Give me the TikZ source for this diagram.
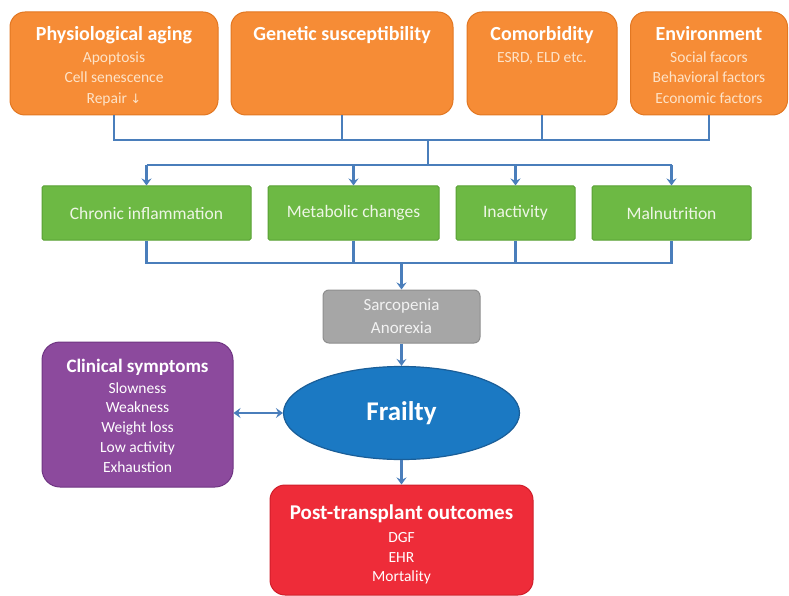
\documentclass[tikz,border=0pt]{standalone}
\usepackage{fontspec}
\setmainfont{Carlito}
\newfontfamily\symfont{DejaVu Sans}
\usetikzlibrary{shapes.geometric,arrows.meta}
\definecolor{orangefill}{HTML}{F68C36}
\definecolor{orangeline}{HTML}{E27722}
\definecolor{orangesub}{HTML}{FDE3C8}
\definecolor{greenfill}{HTML}{6DB944}
\definecolor{greenline}{HTML}{58A034}
\definecolor{greentext}{HTML}{EEF6E6}
\definecolor{grayfill}{HTML}{A6A6A6}
\definecolor{grayline}{HTML}{8E8E8E}
\definecolor{graytext}{HTML}{F2F2F2}
\definecolor{bluefill}{HTML}{1B79C3}
\definecolor{blueline}{HTML}{1A5E98}
\definecolor{purplefill}{HTML}{8C4A9D}
\definecolor{purpleline}{HTML}{6F3582}
\definecolor{redfill}{HTML}{EE2C39}
\definecolor{redline}{HTML}{D01E2A}
\definecolor{linkblue}{HTML}{4A7EBB}
\tikzset{
  conn/.style={draw=linkblue, line width=2.2pt},
  arr/.style={conn, -{Stealth[length=7pt,width=10pt,inset=2.5pt]}},
  dblarr/.style={conn, {Stealth[length=7pt,width=10pt,inset=2.5pt]}-{Stealth[length=7pt,width=10pt,inset=2.5pt]}},
  obox/.style={draw=orangeline, fill=orangefill, rounded corners=15pt, line width=1pt},
  otext/.style={text=orangesub, align=center, inner sep=0pt, font=\fontsize{15.5}{20.5}\selectfont},
  gbox/.style={draw=greenline, fill=greenfill, line width=1pt, rounded corners=1.5pt, text=greentext, font=\fontsize{17.5}{20}\selectfont},
  graybox/.style={draw=grayline, fill=grayfill, rounded corners=6pt, line width=1pt},
  graytxt/.style={text=graytext, align=center, inner sep=0pt, font=\fontsize{17}{23}\selectfont},
  ellip/.style={ellipse, draw=blueline, fill=bluefill, line width=1.2pt, text=white, font=\bfseries\fontsize{27}{30}\selectfont},
  pbox/.style={draw=purpleline, fill=purplefill, rounded corners=18pt, line width=1pt},
  ptext/.style={text=white, align=center, inner sep=0pt, font=\fontsize{15.5}{19.7}\selectfont},
  rbox/.style={draw=redline, fill=redfill, rounded corners=15pt, line width=1pt},
  rtext/.style={text=white, align=center, inner sep=0pt, font=\fontsize{15.5}{19.5}\selectfont},
}
\newcommand{\ttl}[1]{{\color{white}\bfseries\fontsize{20}{20}\selectfont #1}}
\begin{document}
\begin{tikzpicture}[x=1pt,y=-1pt]
\useasboundingbox (0,0) rectangle (789,596);
% orange boxes
\node[obox, minimum width=208pt, minimum height=103pt] (o1) at (114,63.5) {};
\node[obox, minimum width=222pt, minimum height=103pt] (o2) at (342,63.5) {};
\node[obox, minimum width=150pt, minimum height=103pt] (o3) at (542,63.5) {};
\node[obox, minimum width=157pt, minimum height=103pt] (o4) at (709,63.5) {};
\node[otext, anchor=north] (t1) at (114,26) {\ttl{Physiological aging}\\[1.5pt] Apoptosis\\ Cell senescence\\ Repair {\symfont\fontsize{13}{20}\selectfont ↓}};
\node[otext, anchor=north] (t2) at (342,26) {\ttl{Genetic susceptibility}};
\node[otext, anchor=north] (t3) at (542,26) {\ttl{Comorbidity}\\[1.5pt] ESRD, ELD etc.};
\node[otext, anchor=north] (t4) at (709,26) {\ttl{Environment}\\[1.5pt] Social facors\\ Behavioral factors\\ Economic factors};
% green boxes
\node[gbox, minimum width=209pt, minimum height=54pt] (g1) at (146.5,213) {Chronic inflammation};
\node[gbox, minimum width=171pt, minimum height=54pt] (g2) at (353.5,213) {Metabolic changes};
\node[gbox, minimum width=119pt, minimum height=54pt] (g3) at (515.5,213) {Inactivity};
\node[gbox, minimum width=159pt, minimum height=54pt] (g4) at (671.5,213) {Malnutrition};
% gray box
\node[graybox, minimum width=157pt, minimum height=53pt] (gr) at (401.5,316.5) {};
\node[graytxt, anchor=north] (grt) at (401.5,299) {Sarcopenia\\ Anorexia};
% frailty
\node[ellip, minimum width=236pt, minimum height=93pt] (fr) at (401.5,413) {Frailty};
% purple box
\node[pbox, minimum width=191pt, minimum height=145pt] (pu) at (137.5,414.5) {};
\node[ptext, anchor=north] (put) at (137.5,359) {{\bfseries\fontsize{19}{20}\selectfont Clinical symptoms}\\[1pt] Slowness\\ Weakness\\ Weight loss\\ Low activity\\ Exhaustion};
% red box
\node[rbox, minimum width=263pt, minimum height=110pt] (rd) at (401.5,540) {};
\node[rtext, anchor=north] (rdt) at (401.5,505) {{\bfseries\fontsize{21}{22}\selectfont Post-transplant outcomes}\\[3.5pt] DGF\\ EHR\\ Mortality};
% junction coordinates
\coordinate (j1) at (428,140);
\coordinate (j2) at (428,165);
\coordinate (j3) at (401.5,263);
% top collector
\draw[conn] (o1.south) -- (o1.south |- j1) -- (o4.south |- j1) -- (o4.south);
\draw[conn] (o2.south) -- (o2.south |- j1);
\draw[conn] (o3.south) -- (o3.south |- j1);
\draw[conn] (j1) -- (j2);
% distribution
\draw[conn] (g1.north |- j2) -- (g4.north |- j2);
\draw[arr] (g1.north |- j2) -- (g1.north);
\draw[arr] (g2.north |- j2) -- (g2.north);
\draw[arr] (g3.north |- j2) -- (g3.north);
\draw[arr] (g4.north |- j2) -- (g4.north);
% bottom collector
\draw[conn] (g1.south) -- (g1.south |- j3) -- (g4.south |- j3) -- (g4.south);
\draw[conn] (g2.south) -- (g2.south |- j3);
\draw[conn] (g3.south) -- (g3.south |- j3);
\draw[arr] (j3) -- (gr.north);
\draw[arr] (gr.south) -- (fr.north);
\draw[arr] (fr.south) -- (rd.north);
\draw[dblarr] (pu.east |- fr.west) -- (fr.west);
\end{tikzpicture}
\end{document}
